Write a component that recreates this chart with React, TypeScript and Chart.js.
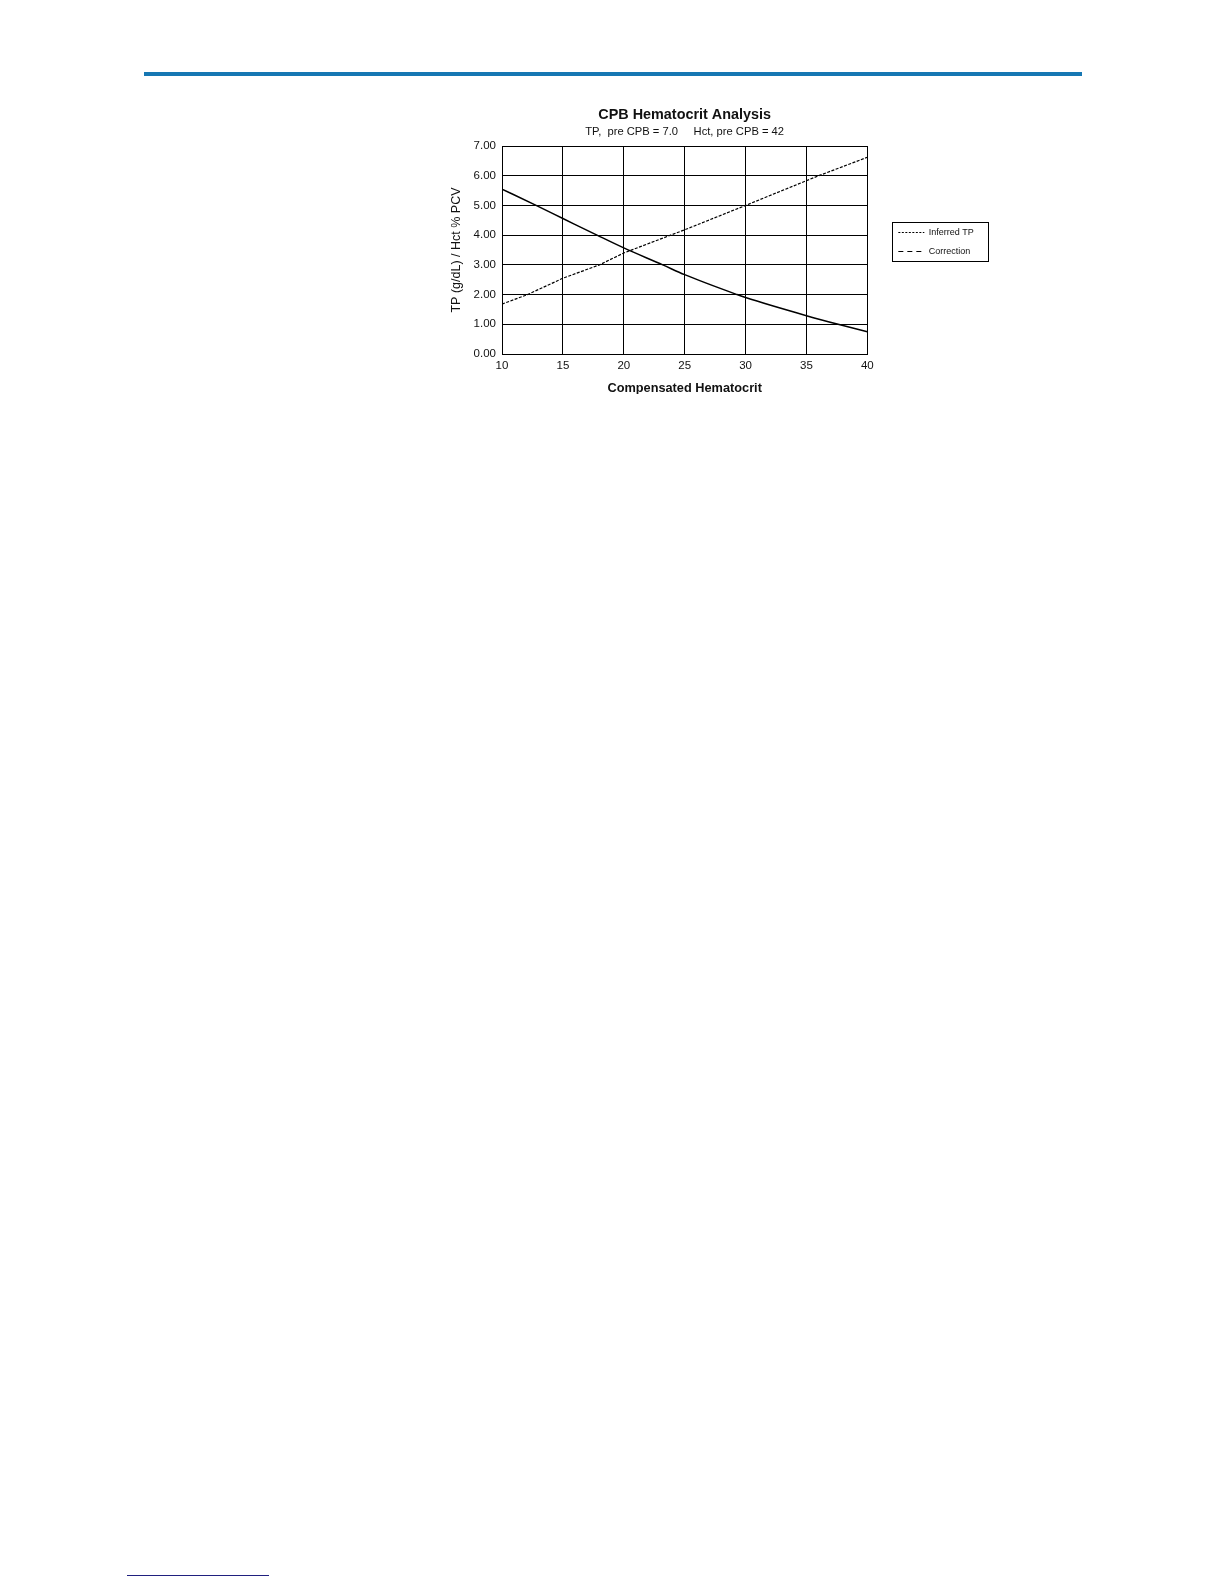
import React, { useEffect, useRef } from 'react'
import { Chart, registerables } from 'chart.js'

Chart.register(...registerables)

// values
const inferredHct = [10, 12.1, 15, 18, 20, 25, 30, 36, 40]
const inferredTP = [1.68, 2.0, 2.55, 3.0, 3.4, 4.18, 5.0, 6.0, 6.62]

const correctionHct = [10, 12.8, 15, 17.8, 20, 23.2, 25, 29.3, 30, 35, 37.6, 40]
const correctionValues = [5.55, 5.0, 4.56, 4.0, 3.57, 3.0, 2.67, 2.0, 1.9, 1.29, 1.0, 0.75]

const legendNames = ['Inferred TP', 'Correction']
const legendDashes = [[2, 1.5], [5, 4]]

const chartTitle = 'CPB Hematocrit Analysis'
const chartSubtitle = 'TP,  pre CPB = 7.0     Hct, pre CPB = 42'
const xTitle = 'Compensated Hematocrit'
const yTitle = 'TP (g/dL) / Hct % PCV'

const FONT = "'Liberation Sans', Arial, Helvetica, sans-serif"

// box round the legend, as in the reference
const legendBorder = {
  id: 'legendBorder',
  afterDraw(chart: any) {
    const boxes = chart.legend?.legendHitBoxes
    if (!boxes || !boxes.length) return
    let l = Infinity, t = Infinity, r = -Infinity, b = -Infinity
    boxes.forEach((h: any) => {
      l = Math.min(l, h.left)
      t = Math.min(t, h.top)
      r = Math.max(r, h.left + h.width)
      b = Math.max(b, h.top + h.height)
    })
    const ctx = chart.ctx
    ctx.save()
    ctx.strokeStyle = '#000'
    ctx.lineWidth = 1
    ctx.setLineDash([])
    ctx.strokeRect(Math.round(l - 6) + 0.5, Math.round(t - 6) + 0.5, Math.round(r - l + 20), Math.round(b - t + 11))
    ctx.restore()
  },
}

const App: React.FC = () => {
  const chartRef = useRef<HTMLCanvasElement | null>(null)

  useEffect(() => {
    if (!chartRef.current) return
    Chart.defaults.font.family = FONT
    Chart.defaults.color = '#111'

    const chart = new Chart(chartRef.current, {
      type: 'line',
      data: {
        datasets: [
          {
            label: legendNames[0],
            data: inferredHct.map((x, i) => ({ x, y: inferredTP[i] })),
            borderColor: '#000',
            borderWidth: 1.2,
            borderDash: [3, 1.5],
            pointRadius: 0,
            tension: 0,
          },
          {
            label: legendNames[1],
            data: correctionHct.map((x, i) => ({ x, y: correctionValues[i] })),
            borderColor: '#000',
            borderWidth: 1.5,
            pointRadius: 0,
            cubicInterpolationMode: 'monotone',
          },
        ],
      },
      options: {
        responsive: false,
        animation: false,
        layout: { padding: { left: 0, top: 0, bottom: 0, right: 12 } },
        scales: {
          x: {
            type: 'linear',
            min: 10,
            max: 40,
            ticks: { stepSize: 5, padding: 5, color: '#111', font: { size: 11.5 } },
            grid: { color: '#000', lineWidth: 1, drawTicks: false },
            border: { color: '#000', width: 1 },
            title: {
              display: true,
              text: xTitle,
              color: '#111',
              font: { size: 12.75, weight: 'bold' },
              padding: { top: 0, bottom: -2 },
            },
            afterFit: (scale: any) => {
              scale.height = 40
            },
          },
          y: {
            min: 0,
            max: 7,
            ticks: {
              stepSize: 1,
              padding: 6,
              color: '#111',
              font: { size: 11.5 },
              callback: (v: any) => Number(v).toFixed(2),
            },
            grid: { color: '#000', lineWidth: 1, drawTicks: false },
            border: { color: '#000', width: 1 },
            title: {
              display: true,
              text: yTitle,
              color: '#111',
              font: { size: 12.5 },
              padding: { top: 4.5, bottom: 0 },
            },
            afterFit: (scale: any) => {
              scale.width = 57
            },
          },
          gap: {
            type: 'linear',
            position: 'right',
            grid: { display: false },
            border: { display: false },
            ticks: { display: false },
            afterFit: (scale: any) => {
              scale.width = 21
            },
          },
        },
        plugins: {
          title: {
            display: true,
            text: chartTitle,
            fullSize: false,
            color: '#111',
            font: { size: 14.4, weight: 'bold' },
            padding: { top: 16.6, bottom: 0 },
          },
          subtitle: {
            display: true,
            text: chartSubtitle,
            fullSize: false,
            color: '#111',
            font: { size: 11.2 },
            padding: { top: 1.5, bottom: 7.2 },
          },
          legend: {
            display: true,
            position: 'right',
            fullSize: true,
            labels: {
              usePointStyle: true,
              pointStyleWidth: 26,
              boxHeight: 9,
              padding: 10,
              color: '#111',
              font: { size: 9 },
              generateLabels: () =>
                legendNames.map((name, i) => ({
                  text: name,
                  datasetIndex: i,
                  strokeStyle: '#000',
                  fillStyle: 'rgba(0,0,0,0)',
                  lineWidth: 1,
                  lineDash: legendDashes[i],
                  pointStyle: 'line',
                  hidden: false,
                  fontColor: '#111',
                })),
            },
          },
          tooltip: { enabled: false },
        },
      },
      plugins: [legendBorder],
    })

    return () => {
      chart.destroy()
    }
  }, [])

  return (
    <div>
      <div style={{ position: 'absolute', left: 144, top: 72, width: 938, height: 4, background: '#1677b3' }} />
      <canvas
        ref={chartRef}
        width={544}
        height={304}
        style={{ position: 'absolute', left: 445, top: 90, width: 544, height: 304 }}
      />
      <div style={{ position: 'absolute', left: 127, top: 1575, width: 142, height: 1, background: '#20207f' }} />
    </div>
  )
}

export default App
